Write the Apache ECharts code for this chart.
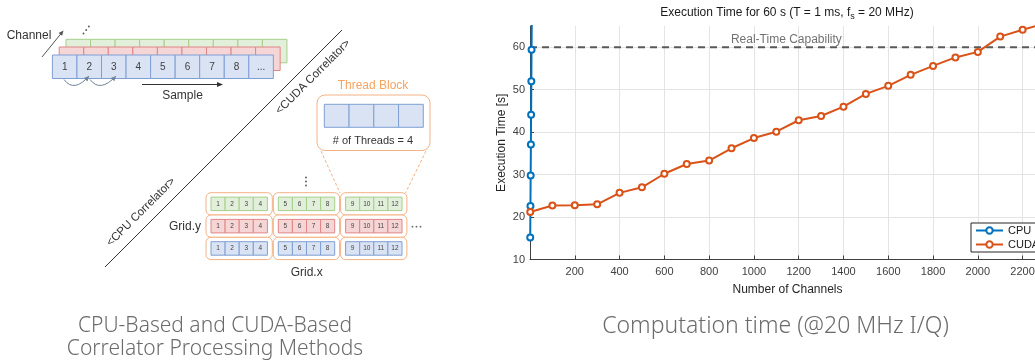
<!DOCTYPE html>
<html><head><meta charset="utf-8">
<script src="https://cdn.jsdelivr.net/npm/echarts@6/dist/echarts.min.js"></script>
<style>html,body{margin:0;padding:0;background:#fff}#c{width:1035px;height:360px}</style>
</head><body><div id="c"></div>
<script>
// ---- chart data ----
const cpuChannels = [1, 2, 3, 4, 5, 6, 7, 8];
const cpuTimes = [15.2, 22.6, 29.8, 37.1, 44.1, 52.0, 59.4, 66.8];
const cudaChannels = [1, 100, 200, 300, 400, 500, 600, 700, 800, 900, 1000, 1100, 1200, 1300, 1400, 1500, 1600, 1700, 1800, 1900, 2000, 2100, 2200, 2300];
const cudaTimes = [21.2, 22.7, 22.8, 23.0, 25.7, 27.0, 30.2, 32.5, 33.3, 36.2, 38.6, 40.1, 42.8, 43.8, 46.0, 49.0, 50.9, 53.5, 55.6, 57.6, 58.9, 62.5, 64.1, 65.6];
const seriesNames = ['CPU', 'CUDA'];
const realTimeLimit = 60;
const realTimeLabel = 'Real-Time Capability';
const realTimeLabelAt = 1145;
const xRange = [0, 2300], xStep = 200;
const yRange = [10, 65], yStep = 10;
const chartTitle = ['Execution Time for 60 s (T = 1 ms, f', 's', ' = 20 MHz)'];
const xName = 'Number of Channels';
const yName = 'Execution Time [s]';
const captions = ['CPU-Based and CUDA-Based', 'Correlator Processing Methods', 'Computation time (@20 MHz I/Q)'];

// ---- diagram helpers (schematic, not data) ----
const G = [];
const FONT = '"Liberation Sans", Arial, sans-serif';
function rect(x, y, w, h, fill, stroke, r, lw) {
  G.push({type: 'rect', silent: true, shape: {x: x, y: y, width: w, height: h, r: r || 0},
    style: {fill: fill, stroke: stroke, lineWidth: lw || 1}});
}
function txt(x, y, t, font, fill, rot) {
  G.push({type: 'text', silent: true, x: x, y: y, rotation: rot || 0,
    style: {text: t, x: 0, y: 0, font: font, fill: fill, align: 'center', verticalAlign: 'middle',
      textAlign: 'center', textVerticalAlign: 'middle'}});
}
function line(x1, y1, x2, y2, stroke, w, dash) {
  G.push({type: 'line', silent: true, shape: {x1: x1, y1: y1, x2: x2, y2: y2},
    style: {stroke: stroke, lineWidth: w || 1, lineDash: dash || null}});
}
function head(tx, ty, dx, dy, color, len, wid) {
  const L = Math.hypot(dx, dy); const ux = dx / L, uy = dy / L; const nx = -uy, ny = ux;
  G.push({type: 'polygon', silent: true, shape: {points: [[tx, ty],
    [tx - len * ux + wid * nx, ty - len * uy + wid * ny], [tx - len * ux - wid * nx, ty - len * uy - wid * ny]]},
    style: {fill: color}});
}
function dot(x, y, c) { G.push({type: 'circle', silent: true, shape: {cx: x, cy: y, r: 0.9}, style: {fill: c}}); }
function curve(x1, y1, cx, cy, x2, y2, c) {
  G.push({type: 'bezierCurve', silent: true, shape: {x1: x1, y1: y1, x2: x2, y2: y2, cpx1: cx, cpy1: cy},
    style: {stroke: c, fill: null, lineWidth: 1}});
  head(x2, y2, x2 - cx, y2 - cy, c, 5, 2.5);
}
const BL = ['#dae3f3', '#7f9fd3'], RD = ['#f5d5d5', '#e08686'], GR = ['#e2efda', '#a6cf8a'];
const OR = '#f4b183', ORT = '#f5a35f', DK = '#333333';

// CPU pipeline rows (back to front)
const cw = 24.55;
[[66, 39.3, GR], [59.2, 47, RD], [52.4, 55, BL]].forEach(function (r, idx) {
  for (let i = 0; i < 9; i++) rect(r[0] + i * cw, r[1], cw, 23.5, r[2][0], r[2][1]);
  if (idx === 2) {
    const lab = ['1', '2', '3', '4', '5', '6', '7', '8', '...'];
    for (let i = 0; i < 9; i++) txt(r[0] + i * cw + cw / 2, r[1] + 12, lab[i], '10px ' + FONT, '#404040');
  }
});
txt(29, 36, 'Channel', '12px ' + FONT, DK);
line(42, 57, 61.5, 33, '#555', 1); head(63.5, 30.5, 21.5, -26.5, '#555', 5, 2.3);
dot(83.5, 33.5, '#555'); dot(86.2, 30, '#555'); dot(88.9, 26.5, '#555');
curve(64, 79.5, 74, 93, 89, 76, '#6f8299');
curve(90, 79.5, 100, 93, 116, 76, '#6f8299');
line(142, 84.5, 218, 84.5, DK, 1); head(223, 84.5, 1, 0, DK, 6, 2.5);
txt(182.5, 96, 'Sample', '12px ' + FONT, DK);

// separator + labels
line(342, 30, 105, 267, DK, 1);
txt(313, 77, '<CUDA Correlator>', '11.5px ' + FONT, DK, Math.PI / 4);
txt(141, 212, '<CPU Correlator>', '11.5px ' + FONT, DK, Math.PI / 4);

// thread block
txt(373, 85.5, 'Thread Block', '12px ' + FONT, ORT);
rect(317, 95, 113, 55.5, '#fff', OR, 8);
for (let i = 0; i < 4; i++) rect(324.3 + i * 24.75, 104.3, 24.75, 23, BL[0], BL[1]);
txt(373, 141, '# of Threads = 4', '11px ' + FONT, DK);
line(321, 151, 340, 193, OR, 1, [3, 2]);
line(426, 151, 405.5, 193, OR, 1, [3, 2]);

// CUDA grid
const colL = [206, 273.3, 340.6], rowT = [192.7, 215, 237.3], rowC = [GR, RD, BL];
for (let c = 0; c < 3; c++) {
  for (let r = 0; r < 3; r++) {
    rect(colL[c], rowT[r], 66.3, 22.3, '#fff', OR, 5);
    for (let k = 0; k < 4; k++) {
      rect(colL[c] + 5 + k * 14.1, rowT[r] + 4.4, 14.1, 13.5, rowC[r][0], rowC[r][1]);
      txt(colL[c] + 5 + k * 14.1 + 7.05, rowT[r] + 11.2, String(c * 4 + k + 1), '6.5px ' + FONT, '#444');
    }
  }
}
dot(306, 177.5, '#555'); dot(306, 181.5, '#555'); dot(306, 185.5, '#555');
dot(412.5, 226.7, '#666'); dot(416.5, 226.7, '#666'); dot(420.5, 226.7, '#666');
txt(185, 226.7, 'Grid.y', '12px ' + FONT, DK);
txt(306.7, 272.7, 'Grid.x', '12px ' + FONT, DK);

// captions
const CAP = '300 21px "Noto Sans", "Open Sans", sans-serif';
const CAP2 = '300 23px "Noto Sans", "Open Sans", sans-serif';
txt(215, 326, captions[0], CAP, '#6b6b6b');
txt(215, 349, captions[1], CAP, '#6b6b6b');
txt(775.5, 326, captions[2], CAP2, '#6b6b6b');

// chart title with subscript
G.push({type: 'text', silent: true, x: 787, y: 13,
  style: {text: '{a|' + chartTitle[0] + '}{s|' + chartTitle[1] + '}{a|' + chartTitle[2] + '}',
    x: 0, y: 0, align: 'center', verticalAlign: 'middle', textAlign: 'center', textVerticalAlign: 'middle',
    rich: {a: {font: '12px ' + FONT, fill: '#1a1a1a', color: '#1a1a1a', lineHeight: 16, verticalAlign: 'middle'},
      s: {font: '9px ' + FONT, fill: '#1a1a1a', color: '#1a1a1a', lineHeight: 9, verticalAlign: 'bottom'}}}});

const BLUE = '#0072BD', ORANGE = '#D95319';
const axisTxt = {fontFamily: FONT, fontSize: 11, color: '#404040'};
const chart = echarts.init(document.getElementById('c'), null, {renderer: 'canvas'});
chart.setOption({
  animation: false,
  backgroundColor: '#fff',
  grid: {left: 530, top: 26, width: 515, height: 233.5, containLabel: false, outerBoundsMode: 'none'},
  xAxis: {type: 'value', min: xRange[0], max: xRange[1], interval: xStep,
    name: xName, nameLocation: 'middle', nameGap: 24,
    nameTextStyle: {fontFamily: FONT, fontSize: 12, color: '#262626'},
    axisLine: {show: true, lineStyle: {color: '#404040', width: 1}},
    axisTick: {show: true, inside: true, length: 4, lineStyle: {color: '#404040'}},
    axisLabel: Object.assign({margin: 7, showMaxLabel: false, formatter: function (v) { return v === 0 ? '' : String(v); }}, axisTxt),
    splitLine: {show: true, showMaxLine: false, lineStyle: {color: '#e4e4e4', width: 1}}},
  yAxis: {type: 'value', min: yRange[0], max: yRange[1], interval: yStep,
    name: yName, nameLocation: 'middle', nameGap: 22,
    nameTextStyle: {fontFamily: FONT, fontSize: 12, color: '#262626'},
    axisLine: {show: true, lineStyle: {color: '#404040', width: 1}},
    axisTick: {show: true, inside: true, length: 4, lineStyle: {color: '#404040'}},
    axisLabel: Object.assign({margin: 5, showMaxLabel: false}, axisTxt),
    splitLine: {show: true, showMaxLine: false, lineStyle: {color: '#e4e4e4', width: 1}}},
  legend: {data: seriesNames, orient: 'vertical', left: 971, top: 223, itemWidth: 27, itemHeight: 8, itemGap: 1,
    padding: [1, 40, 1, 4], borderColor: '#262626', borderWidth: 1, backgroundColor: '#fff',
    textStyle: {fontFamily: FONT, fontSize: 11, color: '#1a1a1a', lineHeight: 13}, selectedMode: false},
  graphic: {elements: G},
  series: [
    {name: 'rt', type: 'line', data: [[xRange[0], realTimeLimit], [xRange[1], realTimeLimit]], symbol: 'none',
      lineStyle: {color: '#595959', width: 2, type: [7, 5]}, silent: true, z: 1},
    {name: 'rtLabel', type: 'scatter', data: [[realTimeLabelAt, realTimeLimit]], symbolSize: 1,
      itemStyle: {color: 'rgba(0,0,0,0)'}, silent: true,
      label: {show: true, position: 'top', distance: 1, formatter: realTimeLabel,
        fontFamily: FONT, fontSize: 12, color: '#4d4d4d'}},
    {name: seriesNames[0], type: 'line', data: cpuChannels.map(function (c, i) { return [c, cpuTimes[i]]; }),
      clip: true, symbol: 'emptyCircle', symbolSize: 6, color: BLUE,
      lineStyle: {color: BLUE, width: 2}, itemStyle: {color: BLUE, borderWidth: 1.5}, z: 3},
    {name: seriesNames[1], type: 'line', data: cudaChannels.map(function (c, i) { return [c, cudaTimes[i]]; }),
      clip: true, symbol: 'emptyCircle', symbolSize: 6, color: ORANGE,
      lineStyle: {color: ORANGE, width: 2}, itemStyle: {color: ORANGE, borderWidth: 1.5}, z: 4}
  ]
});
</script></body></html>
